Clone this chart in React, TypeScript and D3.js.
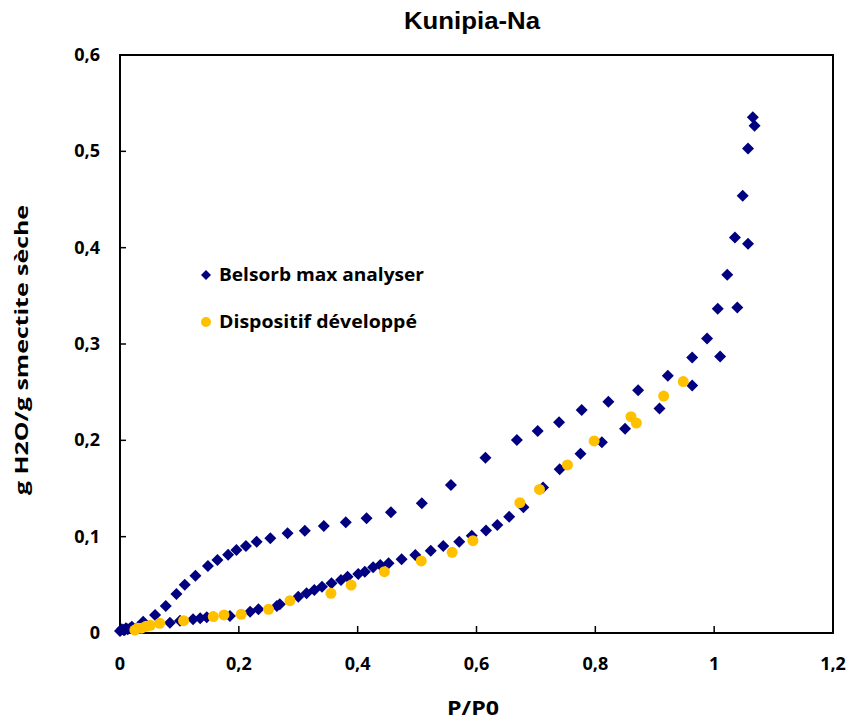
import React, { useRef, useEffect } from 'react';
import * as d3 from 'd3';

// Belsorb max analyser (adsorption + desorption branches)
const belsorbX = [
  0.000, 0.003, 0.006, 0.010, 0.013, 0.017, 0.020, 0.039, 0.059, 0.077, 0.095, 0.109, 0.127, 0.148, 0.164,
  0.182, 0.196, 0.212, 0.230, 0.253, 0.282, 0.311, 0.343, 0.380, 0.415, 0.456, 0.508, 0.557,
  0.615, 0.668, 0.703, 0.739, 0.777, 0.822, 0.872, 0.922, 0.963, 0.988, 1.006, 1.022, 1.035, 1.048,
  1.057, 1.065, 1.068, 1.057, 1.039, 1.010, 0.963, 0.908, 0.850, 0.811, 0.775, 0.740, 0.712, 0.679,
  0.655, 0.635, 0.616, 0.592, 0.571, 0.544, 0.523, 0.497, 0.474, 0.452, 0.438, 0.426, 0.412, 0.401,
  0.383, 0.372, 0.356, 0.340, 0.327, 0.314, 0.300, 0.269, 0.264, 0.233, 0.219, 0.185, 0.146, 0.135,
  0.123, 0.101, 0.084, 0.030, 0.008
];
const belsorbY = [
  0.002, 0.004, 0.003, 0.005, 0.004, 0.005, 0.0065, 0.0117, 0.0187, 0.028, 0.0405, 0.050, 0.0595, 0.0696, 0.0758,
  0.0813, 0.0862, 0.0903, 0.0948, 0.0983, 0.1035, 0.1062, 0.1111, 0.115, 0.119, 0.1253, 0.1347, 0.1537,
  0.182, 0.2004, 0.2098, 0.2188, 0.2316, 0.240, 0.252, 0.267, 0.286, 0.3056, 0.3365, 0.372, 0.4105, 0.454,
  0.503, 0.5355, 0.5265, 0.404, 0.338, 0.287, 0.257, 0.233, 0.212, 0.198, 0.186, 0.170, 0.151, 0.1305,
  0.1208, 0.112, 0.1065, 0.101, 0.0948, 0.0903, 0.0855, 0.081, 0.0765, 0.0724, 0.0706, 0.0682, 0.0637, 0.0613,
  0.0585, 0.055, 0.0516, 0.048, 0.0447, 0.0412, 0.0377, 0.0298, 0.028, 0.0246, 0.0221, 0.0177, 0.0163, 0.0152,
  0.0142, 0.0128, 0.0107, 0.006, 0.003
];

// Dispositif développé
const dispositifX = [
  0.025, 0.030, 0.036, 0.044, 0.051, 0.067, 0.107, 0.157, 0.175, 0.204, 0.250, 0.286, 0.355, 0.389,
  0.445, 0.507, 0.559, 0.594, 0.673, 0.706, 0.753, 0.798, 0.860, 0.869, 0.915, 0.948
];
const dispositifY = [
  0.003, 0.005, 0.005, 0.007, 0.008, 0.010, 0.0128, 0.017, 0.0187, 0.0194, 0.0246, 0.0336, 0.0412, 0.0498,
  0.0637, 0.0748, 0.0838, 0.0958, 0.1353, 0.149, 0.1745, 0.1994, 0.2246, 0.218, 0.246, 0.261
];

const xTicks = [0, 0.2, 0.4, 0.6, 0.8, 1, 1.2];
const yTicks = [0, 0.1, 0.2, 0.3, 0.4, 0.5, 0.6];

const fmt = (v: number) => String(+v.toFixed(1)).replace('.', ',');

const App: React.FC = () => {
  const ref = useRef<SVGSVGElement | null>(null);

  useEffect(() => {
    if (!ref.current) return;
    const width = 849;
    const height = 722;
    const margin = { top: 55, right: 16, bottom: 89, left: 120 };
    const innerW = width - margin.left - margin.right;
    const innerH = height - margin.top - margin.bottom;
    const labelFont = '"Open Sans", Lato, sans-serif';

    const svg = d3.select(ref.current);
    svg.selectAll('*').remove();

    const x = d3.scaleLinear().domain([0, 1.2]).range([0, innerW]);
    const y = d3.scaleLinear().domain([0, 0.6]).range([innerH, 0]);

    svg.append('rect').attr('width', width).attr('height', height).attr('fill', '#fff');

    svg.append('text')
      .attr('x', 472).attr('y', 29)
      .attr('text-anchor', 'middle')
      .attr('textLength', 136).attr('lengthAdjust', 'spacingAndGlyphs')
      .style('font-family', '"Liberation Sans", Arial, sans-serif')
      .style('font-weight', '700')
      .style('font-size', '23px')
      .text('Kunipia-Na');

    const g = svg.append('g').attr('transform', `translate(${margin.left},${margin.top})`);

    // frame
    g.append('rect')
      .attr('width', innerW).attr('height', innerH)
      .attr('fill', 'none').attr('stroke', '#000').attr('stroke-width', 2);

    // ticks (inward)
    g.selectAll('line.xt').data(xTicks.slice(1, -1)).enter().append('line')
      .attr('x1', d => x(d)).attr('x2', d => x(d))
      .attr('y1', innerH).attr('y2', innerH - 7)
      .attr('stroke', '#000').attr('stroke-width', 1.5);
    g.selectAll('line.yt').data(yTicks.slice(1, -1)).enter().append('line')
      .attr('x1', 0).attr('x2', 6)
      .attr('y1', d => y(d)).attr('y2', d => y(d))
      .attr('stroke', '#000').attr('stroke-width', 1.5);

    // tick labels
    g.selectAll('text.xl').data(xTicks).enter().append('text')
      .attr('x', d => x(d)).attr('y', innerH + 37)
      .attr('text-anchor', 'middle')
      .style('font-family', labelFont).style('font-weight', '700').style('font-size', '18px')
      .text(d => fmt(d));
    g.selectAll('text.yl').data(yTicks).enter().append('text')
      .attr('x', -20).attr('y', d => y(d) + 6)
      .attr('text-anchor', 'end')
      .style('font-family', labelFont).style('font-weight', '700').style('font-size', '18px')
      .text(d => fmt(d));

    // axis titles
    svg.append('text')
      .attr('x', 473).attr('y', 715)
      .attr('text-anchor', 'middle')
      .attr('textLength', 52).attr('lengthAdjust', 'spacingAndGlyphs')
      .style('font-family', labelFont).style('font-weight', '700').style('font-size', '19px')
      .text('P/P0');
    svg.append('text')
      .attr('transform', `translate(28,350) rotate(-90)`)
      .attr('text-anchor', 'middle')
      .attr('textLength', 290).attr('lengthAdjust', 'spacingAndGlyphs')
      .style('font-family', labelFont).style('font-weight', '700').style('font-size', '17px')
      .text('g H2O/g smectite sèche');

    // markers
    const diamond = 'M0,-6L6,0L0,6L-6,0Z';
    g.selectAll('path.bel').data(belsorbX).enter().append('path')
      .attr('d', diamond)
      .attr('transform', (d, i) => `translate(${x(d)},${y(belsorbY[i])})`)
      .attr('fill', '#000080');
    g.selectAll('circle.dis').data(dispositifX).enter().append('circle')
      .attr('cx', d => x(d)).attr('cy', (d, i) => y(dispositifY[i]))
      .attr('r', 5.5)
      .attr('fill', '#FFC000');

    // legend
    const leg = svg.append('g');
    leg.append('path').attr('d', 'M0,-5L5,0L0,5L-5,0Z')
      .attr('transform', 'translate(206,275)').attr('fill', '#000080');
    leg.append('text').attr('x', 219).attr('y', 281)
      .attr('textLength', 205).attr('lengthAdjust', 'spacingAndGlyphs')
      .style('font-family', labelFont).style('font-weight', '700').style('font-size', '18px')
      .text('Belsorb max analyser');
    leg.append('circle').attr('cx', 206).attr('cy', 322).attr('r', 5).attr('fill', '#FFC000');
    leg.append('text').attr('x', 219).attr('y', 328)
      .attr('textLength', 198).attr('lengthAdjust', 'spacingAndGlyphs')
      .style('font-family', labelFont).style('font-weight', '700').style('font-size', '18px')
      .text('Dispositif développé');
  }, []);

  return (
    <svg ref={ref} width={849} height={722}
      style={{ position: 'absolute', left: 0, top: 0, display: 'block' }} />
  );
};

export default App;
